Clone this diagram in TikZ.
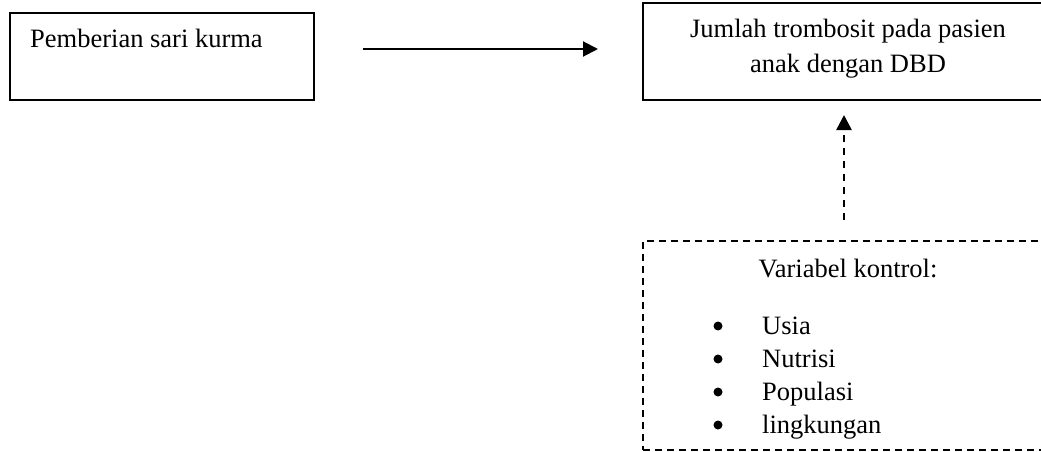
\documentclass[tikz,border=0pt]{standalone}
\usepackage{fontspec}
\setmainfont{Liberation Serif}
\usetikzlibrary{arrows.meta}
\begin{document}
\begin{tikzpicture}[x=1pt,y=-1pt,
  box/.style={draw,line width=1.5pt,rectangle,inner sep=0pt},
  dbox/.style={draw,line width=1.4pt,dash pattern=on 7pt off 5pt,rectangle,inner sep=0pt},
  txt/.style={inner sep=0pt,font=\fontsize{26.5}{34}\selectfont},
  bul/.style={circle,fill,inner sep=0pt,minimum size=9pt},
  tip/.style={-{Triangle[length=15pt,width=15pt]}}]
\useasboundingbox (0,0) rectangle (1041,452);
\begin{scope}
\clip (0,0) rectangle (1041,452);
% left box: intervention
\node[box,minimum width=304pt,minimum height=87pt] (b1) at (162,56.5) {};
\node[txt,anchor=base west] (t1) at (30,48) {Pemberian sari kurma};
% right box: outcome (runs past the right edge)
\node[box,minimum width=417pt,minimum height=97pt] (b2) at (851.5,51.5) {};
\node[txt,anchor=base] (t2a) at (848,38) {Jumlah trombosit pada pasien};
\node[txt,anchor=base] (t2b) at (848,72) {anak dengan DBD};
% dashed box: control variables (runs past the right edge)
\node[dbox,minimum width=417pt,minimum height=209pt] (b3) at (851.5,345.5) {};
\node[txt,anchor=base] (t3) at (848,277) {Variabel kontrol:};
\foreach \n/\lab/\yy in {u/Usia/334,n/Nutrisi/367,p/Populasi/400,l/lingkungan/433}{
  \node[bul] (d\n) at (718,\yy-8) {};
  \node[txt,anchor=base west] (i\n) at (762,\yy) {\lab};
}
\end{scope}
% connectors
\coordinate (a1s) at (363,49);
\coordinate (a1e) at (598,49);
\draw[tip,line width=2pt] (a1s) -- (a1e);
\coordinate (a2s) at (844,220);
\coordinate (a2e) at (844,115);
\draw[tip,line width=2.5pt,dash pattern=on 7pt off 6pt] (a2s) -- (a2e);
\end{tikzpicture}
\end{document}
